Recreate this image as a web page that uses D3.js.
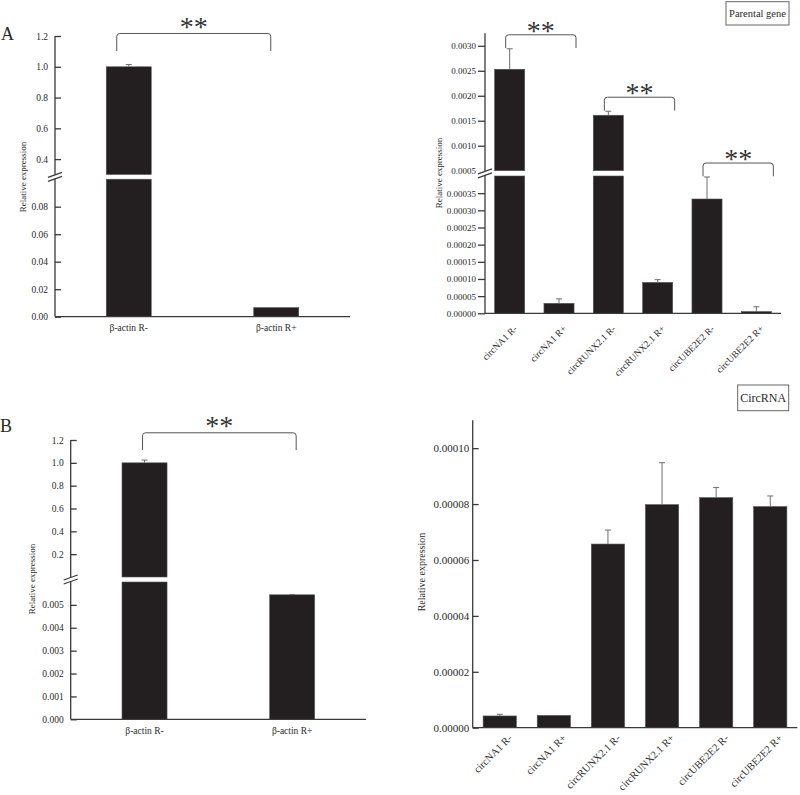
<!DOCTYPE html>
<html>
<head>
<meta charset="utf-8">
<script src="https://cdn.jsdelivr.net/npm/d3@7"></script>
<style>
	html, body { margin: 0; padding: 0; background: #fff; }
	#chart { width: 800px; height: 795px; }
	text { font-family: "Liberation Serif", "Times New Roman", Times, serif; }
</style>
</head>
<body>
<div id="chart"></div>
<script>
(function (d3) {
	'use strict';

	// DATA
	const actinCats = ["β-actin R-", "β-actin R+"];
	const actinA = [1.0, 0.0066];
	const actinAErr = [0.015, 0];
	const actinB = [1.0, 0.00544];
	const actinBErr = [0.024, 0.00001];

	const circCats = ["circNA1 R-", "circNA1 R+", "circRUNX2.1 R-", "circRUNX2.1 R+", "circUBE2E2 R-", "circUBE2E2 R+"];
	const parentalVals = [0.00253, 0.000029, 0.00161, 0.00009, 0.000333, 0.000005];
	const parentalErr = [0.00041, 0.000013, 0.00008, 0.000008, 0.000064, 0.000014];
	const circVals = [0.0000042, 0.0000044, 0.0000657, 0.0000798, 0.0000823, 0.0000791];
	const circErr = [0.0000006, 0, 0.000005, 0.000015, 0.0000036, 0.0000038];

	// ticks
	const ticksAUpper = [0.4, 0.6, 0.8, 1.0, 1.2];
	const ticksALower = [0, 0.02, 0.04, 0.06, 0.08];
	const ticksParUpper = [0.0010, 0.0015, 0.0020, 0.0025, 0.0030];
	const ticksParBreak = [0.0005];
	const ticksParLower = [0, 0.00005, 0.0001, 0.00015, 0.0002, 0.00025, 0.0003, 0.00035];
	const ticksBUpper = [0.2, 0.4, 0.6, 0.8, 1.0, 1.2];
	const ticksBLower = [0, 0.001, 0.002, 0.003, 0.004, 0.005];
	const ticksCirc = [0, 0.00002, 0.00004, 0.00006, 0.00008, 0.0001];

	// significance pairs (category indices)
	const sigA = [[0, 1]];
	const sigPar = [[0, 1], [2, 3], [4, 5]];
	const sigB = [[0, 1]];

	const font = '"Liberation Serif", "Times New Roman", Times, serif';
	const barColor = "#231f20";
	const axisColor = "#3a3a3a";
	const textColor = "#2a2a2a";

	const svg = d3.select("#chart").append("svg")
		.attr("width", 800).attr("height", 795)
		.style("font-family", font);

	svg.append("rect").attr("width", 800).attr("height", 795).attr("fill", "#fff");

	const panels = [
		{
			cats: actinCats, vals: actinA, errs: actinAErr, sig: sigA,
			xRange: [55, 350], pad: 0.695,
			segs: [
				{ domain: [0, 0.1], range: [316.7, 179.2], ticks: ticksALower, fmt: d3.format(".2f") },
				{ domain: [0.3, 1.2], range: [174.5, 36], ticks: ticksAUpper, fmt: d3.format(".1f") }
			],
			axisTop: 36, tickInside: true, tickLen: 6, tickFont: 9.5, tickPad: 7,
			brGap: 31, brLeg: 17.5, brOff: [-12, -5.5], starGap: 11,
			yLabel: { x: 26, y: 177, size: 9 },
			xLabel: { rotate: false, dy: 14.5, size: 9.5 },
			letter: { t: "A", x: 1, y: 40 }
		},
		{
			cats: circCats, vals: parentalVals, errs: parentalErr, sig: sigPar,
			xRange: [485, 781], pad: 0.39,
			segs: [
				{ domain: [0, 0.0004], range: [313.3, 176], ticks: ticksParLower, fmt: d3.format(".5f") },
				{ domain: [0.0005, 0.00325], range: [170.7, 33.3], ticks: ticksParUpper, fmt: d3.format(".4f"), breakLabels: ticksParBreak }
			],
			axisTop: 33.3, tickInside: false, tickLen: 7, tickFont: 9, tickPad: 2,
			brGap: 14, brLeg: 13.3, brOff: [-4, 17], starGap: 8.5,
			yLabel: { x: 442, y: 173, size: 9 },
			xLabel: { rotate: true, dx: 8, dy: 16, size: 9.5 },
			legend: { t: "Parental gene", x: 726, y: 1.7, w: 63, h: 23.3, size: 10.5 },
			letter: null
		},
		{
			cats: actinCats, vals: actinB, errs: actinBErr, sig: sigB,
			xRange: [70.7, 366], pad: 0.695,
			segs: [
				{ domain: [0, 0.006], range: [719.3, 582], ticks: ticksBLower, fmt: d3.format(".3f") },
				{ domain: [0, 1.2], range: [577, 440], ticks: ticksBUpper, fmt: d3.format(".1f") }
			],
			axisTop: 440, tickInside: true, tickLen: 6, tickFont: 9.5, tickPad: 7,
			brGap: 27.3, brLeg: 17.3, brOff: [-2, 4], starGap: 11,
			yLabel: { x: 35, y: 579, size: 9 },
			xLabel: { rotate: false, dy: 14.7, size: 9.5 },
			letter: { t: "B", x: 0, y: 432 }
		},
		{
			cats: circCats, vals: circVals, errs: circErr, sig: [],
			xRange: [472.7, 797.3], pad: 0.385,
			segs: [
				{ domain: [0, 0.00011], range: [727.7, 420.2], ticks: ticksCirc, fmt: d3.format(".5f") }
			],
			axisTop: 420.2, tickInside: true, tickLen: 6, tickFont: 11, tickPad: 3.5,
			yLabel: { x: 425, y: 572, size: 10 },
			xLabel: { rotate: true, dx: 13, dy: 11, size: 10.5 },
			legend: { t: "CircRNA", x: 737.7, y: 385, w: 51, h: 25.7, size: 12 },
			letter: null
		}
	];

	const drawPanel = cfg => {
		const g = svg.append("g");
		const x = d3.scaleBand()
			.domain(cfg.cats)
			.range(cfg.xRange)
			.paddingInner(cfg.pad)
			.paddingOuter(cfg.pad / 2);
		const bw = x.bandwidth();
		const segs = cfg.segs.map(s => Object.assign({}, s, {
			y: d3.scaleLinear().domain(s.domain).range(s.range)
		}));
		const x0 = cfg.xRange[0];
		const yBottom = segs[0].range[0];

		// bars, one rect per axis segment
		const tops = [];
		cfg.vals.forEach((v, i) => {
			let topY = null;
			segs.forEach((s, k) => {
				if (k > 0 && v <= segs[k - 1].domain[1]) return;
				const y1 = s.y(Math.min(v, s.domain[1]));
				const y2 = s.y(s.domain[0]);
				g.append("rect")
					.attr("x", x(cfg.cats[i]))
					.attr("y", y1)
					.attr("width", bw)
					.attr("height", Math.max(0, y2 - y1))
					.attr("fill", barColor)
					.attr("stroke", "#555")
					.attr("stroke-width", 0.6);
				if (v <= s.domain[1]) topY = { s: s, y: s.y(v) };
			});
			// error bar
			const cx = x(cfg.cats[i]) + bw / 2;
			const ey = topY.s.y(v + cfg.errs[i]);
			if (cfg.errs[i] > 0) {
				g.append("line")
					.attr("x1", cx).attr("x2", cx)
					.attr("y1", topY.y).attr("y2", ey)
					.attr("stroke", "#6e6e6e").attr("stroke-width", 1);
				g.append("line")
					.attr("x1", cx - 3).attr("x2", cx + 3)
					.attr("y1", ey).attr("y2", ey)
					.attr("stroke", "#6e6e6e").attr("stroke-width", 1);
			}
			tops.push(ey);
		});

		// y axes per segment
		segs.forEach(s => {
			const axis = d3.axisLeft(s.y)
				.tickValues(s.ticks)
				.tickFormat(s.fmt)
				.tickSizeInner(cfg.tickInside ? -cfg.tickLen : cfg.tickLen)
				.tickSizeOuter(0)
				.tickPadding(cfg.tickPad);
			const ag = g.append("g")
				.attr("transform", `translate(${x0},0)`)
				.call(axis)
				.attr("font-family", font)
				.attr("font-size", cfg.tickFont);
			ag.select(".domain").remove();
			ag.selectAll(".tick line").attr("stroke", axisColor).attr("stroke-width", 1.3);
			ag.selectAll(".tick text").attr("fill", textColor);
			if (s.breakLabels) {
				g.selectAll(null).data(s.breakLabels).enter().append("text")
					.attr("x", x0 - cfg.tickLen - cfg.tickPad)
					.attr("y", d => s.y(d))
					.attr("dy", "0.32em")
					.attr("text-anchor", "end")
					.attr("fill", textColor)
					.style("font-size", cfg.tickFont + "px")
					.text(d => s.fmt(d));
			}
		});

		// axis lines
		g.append("line")
			.attr("x1", x0).attr("x2", x0)
			.attr("y1", cfg.axisTop).attr("y2", yBottom)
			.attr("stroke", axisColor).attr("stroke-width", 1.3);
		g.append("line")
			.attr("x1", x0).attr("x2", cfg.xRange[1])
			.attr("y1", yBottom).attr("y2", yBottom)
			.attr("stroke", axisColor).attr("stroke-width", 1.3);

		// break marks
		for (let k = 1; k < segs.length; k++) {
			const yb = (segs[k].range[0] + segs[k - 1].range[1]) / 2;
			g.append("path")
				.attr("d", `M${x0 - 7},${yb + 2.5}L${x0 + 7},${yb - 6.5}L${x0 + 7},${yb - 2.5}L${x0 - 7},${yb + 6.5}Z`)
				.attr("fill", "#fff");
			[0, 4].forEach(o => {
				g.append("line")
					.attr("x1", x0 - 7).attr("y1", yb + 2.5 + o - 2)
					.attr("x2", x0 + 7).attr("y2", yb - 6.5 + o + 2)
					.attr("stroke", axisColor).attr("stroke-width", 1.2);
			});
		}

		// significance brackets
		cfg.sig.forEach(p => {
			const xl = x(cfg.cats[p[0]]) + bw / 2 + cfg.brOff[0];
			const xr = x(cfg.cats[p[1]]) + bw / 2 + cfg.brOff[1];
			const yt = tops[p[0]] - cfg.brGap;
			const r = 3;
			g.append("path")
				.attr("d", `M${xl},${yt + cfg.brLeg}L${xl},${yt + r}Q${xl},${yt} ${xl + r},${yt}` +
					`L${xr - r},${yt}Q${xr},${yt} ${xr},${yt + r}L${xr},${yt + cfg.brLeg}`)
				.attr("fill", "none")
				.attr("stroke", "#555")
				.attr("stroke-width", 1);
			g.append("text")
				.attr("x", (xl + xr) / 2)
				.attr("y", yt - cfg.starGap + 13.4)
				.attr("text-anchor", "middle")
				.attr("fill", "#333")
				.style("font-size", "28px")
				.text("**");
		});

		// x labels
		const xl = cfg.xLabel;
		const lab = g.selectAll(null).data(cfg.cats).enter().append("text")
			.attr("fill", textColor)
			.style("font-size", xl.size + "px")
			.text(d => d);
		if (xl.rotate) {
			lab.attr("text-anchor", "end")
				.attr("transform", d => `translate(${x(d) + bw / 2 + xl.dx},${yBottom + xl.dy}) rotate(-45)`);
		} else {
			lab.attr("text-anchor", "middle")
				.attr("x", d => x(d) + bw / 2)
				.attr("y", yBottom + xl.dy);
		}

		// y label
		g.append("text")
			.attr("transform", `translate(${cfg.yLabel.x},${cfg.yLabel.y}) rotate(-90)`)
			.attr("text-anchor", "middle")
			.attr("fill", textColor)
			.style("font-size", cfg.yLabel.size + "px")
			.text("Relative expression");

		// legend box
		if (cfg.legend) {
			const lg = cfg.legend;
			g.append("rect")
				.attr("x", lg.x).attr("y", lg.y)
				.attr("width", lg.w).attr("height", lg.h)
				.attr("fill", "#fff")
				.attr("stroke", "#666").attr("stroke-width", 1);
			g.append("text")
				.attr("x", lg.x + lg.w / 2)
				.attr("y", lg.y + lg.h / 2)
				.attr("dy", "0.35em")
				.attr("text-anchor", "middle")
				.attr("fill", textColor)
				.style("font-size", lg.size + "px")
				.text(lg.t);
		}

		if (cfg.letter) {
			g.append("text")
				.attr("x", cfg.letter.x).attr("y", cfg.letter.y)
				.attr("fill", textColor)
				.style("font-size", "18px")
				.text(cfg.letter.t);
		}
	};

	panels.forEach(drawPanel);
}(d3));
</script>
</body>
</html>
